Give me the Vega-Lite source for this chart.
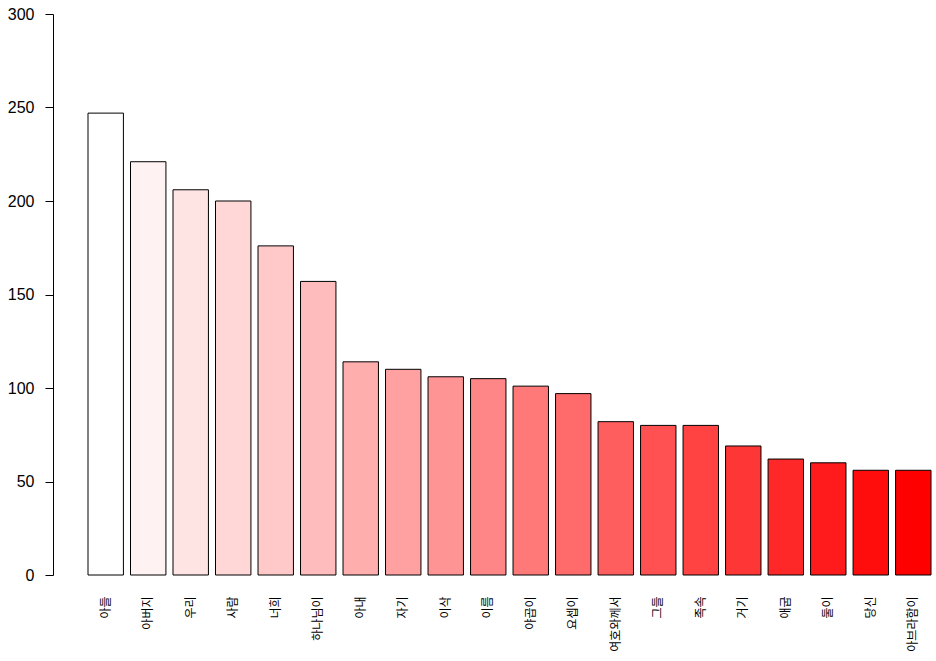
{
  "$schema": "https://vega.github.io/schema/vega-lite/v6.json",
  "width": 883,
  "height": 561,
  "autosize": {"type": "none"},
  "padding": {"left": 53, "top": 14, "right": 0, "bottom": 86},
  "background": "white",
  "config": {"view": {"stroke": null}},
  "data": {
    "values": [
      {"word": "아들", "count": 247},
      {"word": "아버지", "count": 221},
      {"word": "우리", "count": 206},
      {"word": "사람", "count": 200},
      {"word": "너희", "count": 176},
      {"word": "하나님이", "count": 157},
      {"word": "아내", "count": 114},
      {"word": "자기", "count": 110},
      {"word": "이삭", "count": 106},
      {"word": "이름", "count": 105},
      {"word": "야곱이", "count": 101},
      {"word": "요셉이", "count": 97},
      {"word": "여호와께서", "count": 82},
      {"word": "그들", "count": 80},
      {"word": "족속", "count": 80},
      {"word": "거기", "count": 69},
      {"word": "애굽", "count": 62},
      {"word": "둘이", "count": 60},
      {"word": "당신", "count": 56},
      {"word": "아브라함이", "count": 56}
    ]
  },
  "mark": {"type": "bar", "stroke": "black", "strokeWidth": 1},
  "encoding": {
    "x": {
      "field": "word",
      "type": "nominal",
      "sort": null,
      "scale": {"range": [35, 878], "paddingInner": 0.1667, "paddingOuter": 0},
      "axis": {
        "title": null,
        "domain": false,
        "ticks": false,
        "labelAngle": 270,
        "labelAlign": "right",
        "labelBaseline": "middle",
        "labelPadding": 21,
        "labelFont": "Noto Sans CJK KR",
        "labelFontSize": 12,
        "labelColor": "black"
      }
    },
    "y": {
      "field": "count",
      "type": "quantitative",
      "scale": {"domain": [0, 300], "nice": false},
      "axis": {
        "title": null,
        "grid": false,
        "values": [0, 50, 100, 150, 200, 250, 300],
        "domainColor": "black",
        "tickColor": "black",
        "tickSize": 8,
        "labelPadding": 11,
        "labelFont": "Liberation Sans",
        "labelFontSize": 16,
        "labelColor": "black",
        "domainWidth": 1,
        "tickWidth": 1
      }
    },
    "color": {
      "field": "word",
      "type": "nominal",
      "legend": null,
      "scale": {
        "domain": ["아들", "아버지", "우리", "사람", "너희", "하나님이", "아내", "자기", "이삭", "이름", "야곱이", "요셉이", "여호와께서", "그들", "족속", "거기", "애굽", "둘이", "당신", "아브라함이"],
        "range": ["#FFFFFF", "#FFF2F2", "#FFE4E4", "#FFD7D7", "#FFC9C9", "#FFBCBC", "#FFAEAE", "#FFA1A1", "#FF9494", "#FF8686", "#FF7979", "#FF6B6B", "#FF5E5E", "#FF5151", "#FF4343", "#FF3636", "#FF2828", "#FF1B1B", "#FF0D0D", "#FF0000"]
      }
    }
  }
}
